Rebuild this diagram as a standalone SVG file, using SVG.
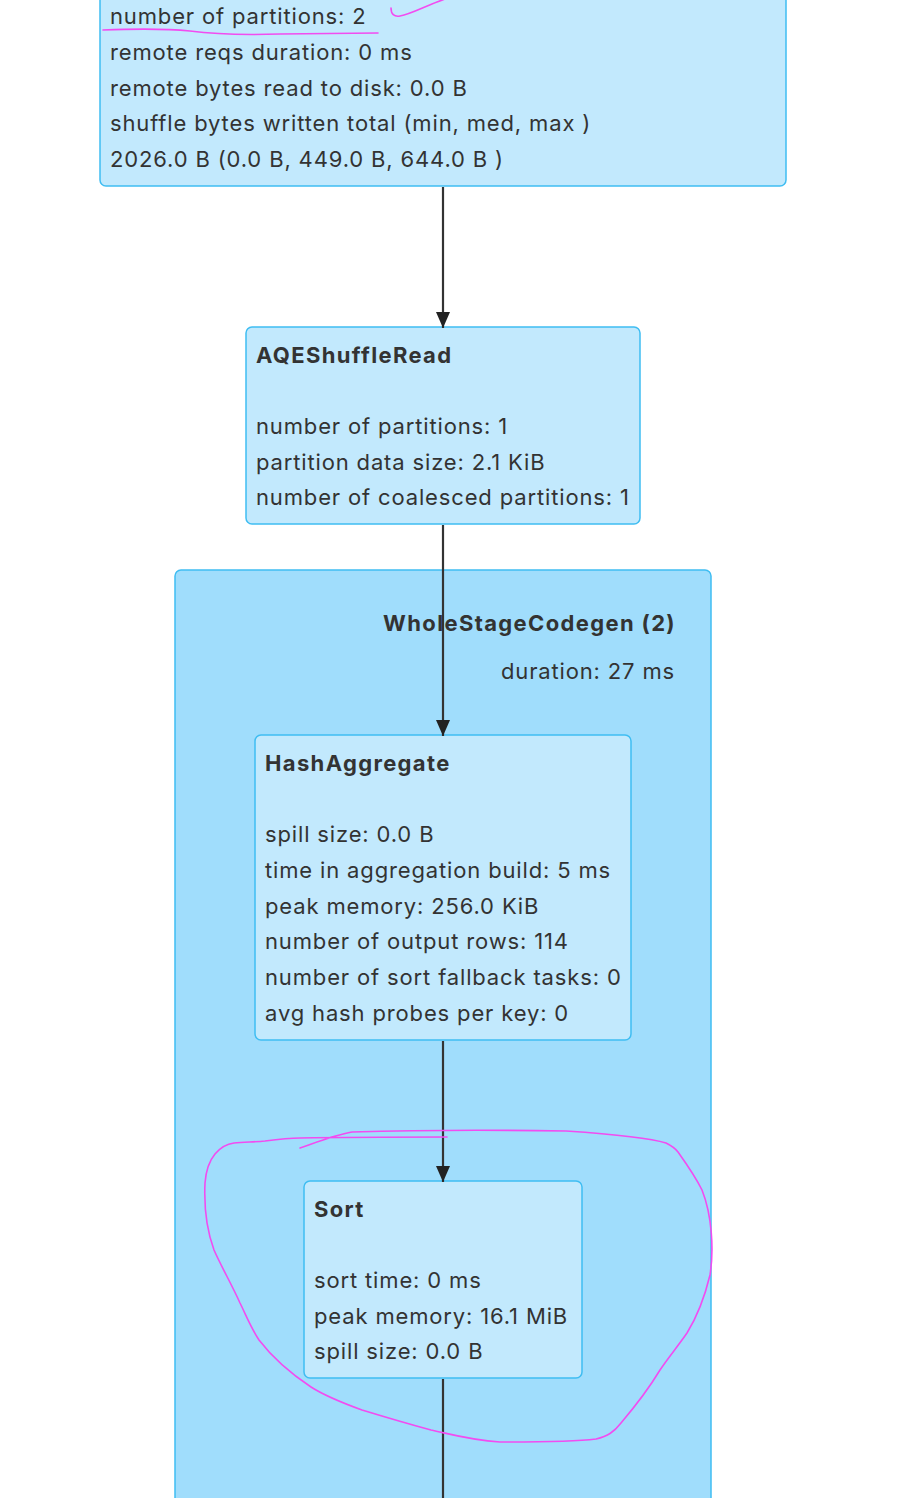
<svg xmlns="http://www.w3.org/2000/svg" width="898" height="1498" viewBox="0 0 898 1498">
<style>
.node{fill:#c2e9fd;stroke:#3fbdf2;stroke-width:1.5}
.cluster{fill:#a0ddfc;stroke:#3fbdf2;stroke-width:1.5}
text{font-family:Inter,"Liberation Sans",sans-serif;font-size:22px;fill:#333;letter-spacing:0.85px}
.b{font-weight:bold;letter-spacing:1.35px}
.edge{stroke:#333;stroke-width:2.2;fill:none}
.ink{stroke:#f24cf0;stroke-width:1.6;fill:none;stroke-linecap:round;stroke-linejoin:round}
</style>
<defs>
<marker id="arr" markerWidth="16" markerHeight="16" refX="16" refY="8" orient="auto" markerUnits="userSpaceOnUse" viewBox="0 0 16 16">
<path d="M0,1 L16,8 L0,15 z" fill="#222"/>
</marker>
</defs>
<rect width="898" height="1498" fill="#fff"/>
<g id="cluster-wsc2">
<rect class="cluster" x="175" y="570" width="536" height="960" rx="6"/>
<text class="b" x="676" y="631" text-anchor="end">WholeStageCodegen (2)</text>
<text x="675" y="679" text-anchor="end">duration: 27 ms</text>
</g>
<g id="node-exchange">
<rect class="node" x="100" y="-40" width="686" height="226" rx="6"/>
<text x="110" y="24">number of partitions: 2</text>
<text x="110" y="60">remote reqs duration: 0 ms</text>
<text x="110" y="96">remote bytes read to disk: 0.0 B</text>
<text x="110" y="131">shuffle bytes written total (min, med, max )</text>
<text x="110" y="167">2026.0 B (0.0 B, 449.0 B, 644.0 B )</text>
</g>
<g id="node-aqe">
<rect class="node" x="246" y="327" width="394" height="197" rx="6"/>
<text class="b" x="256" y="363">AQEShuffleRead</text>
<text x="256" y="434">number of partitions: 1</text>
<text x="256" y="470">partition data size: 2.1 KiB</text>
<text x="256" y="505">number of coalesced partitions: 1</text>
</g>
<g id="node-hashagg">
<rect class="node" x="255" y="735" width="376" height="305" rx="6"/>
<text class="b" x="265" y="771">HashAggregate</text>
<text x="265" y="842">spill size: 0.0 B</text>
<text x="265" y="878">time in aggregation build: 5 ms</text>
<text x="265" y="914">peak memory: 256.0 KiB</text>
<text x="265" y="949">number of output rows: 114</text>
<text x="265" y="985">number of sort fallback tasks: 0</text>
<text x="265" y="1021">avg hash probes per key: 0</text>
</g>
<g id="node-sort">
<rect class="node" x="304" y="1181" width="278" height="197" rx="6"/>
<text class="b" x="314" y="1217">Sort</text>
<text x="314" y="1288">sort time: 0 ms</text>
<text x="314" y="1324">peak memory: 16.1 MiB</text>
<text x="314" y="1359">spill size: 0.0 B</text>
</g>
<g id="edges">
<line class="edge" x1="443" y1="187" x2="443" y2="328" marker-end="url(#arr)"/>
<line class="edge" x1="443" y1="525" x2="443" y2="736" marker-end="url(#arr)"/>
<line class="edge" x1="443" y1="1041" x2="443" y2="1182" marker-end="url(#arr)"/>
<line class="edge" x1="443" y1="1379" x2="443" y2="1498"/>
</g>
<g id="annotations">
<path class="ink" d="M103,30 C130,29 160,28 190,31 C220,35 250,35 280,34 L378,33"/>
<path class="ink" d="M391,8 C391,14 394,17 400,16 C412,14 425,6 445,-1"/>
<path class="ink" d="M300,1148 C320,1141 335,1135 352,1132 C420,1130 500,1130 566,1131 C610,1134 650,1138 666,1143 C672,1146 675,1148 678,1152 C688,1166 697,1180 702,1190 C712,1215 714,1250 710,1275 C704,1300 695,1320 687,1333 C678,1346 668,1358 660,1370 C648,1390 632,1410 621,1423 C614,1432 608,1436 596,1439 C580,1441 550,1442 500,1442 C470,1440 450,1434 431,1430 C405,1423 385,1417 362,1410 C340,1402 325,1396 311,1387 C290,1373 272,1357 259,1340 C250,1326 246,1315 240,1303 C232,1285 222,1268 214,1250 C206,1228 204,1205 205,1183 C206,1170 210,1160 215,1154 C220,1148 226,1144 234,1143 C245,1142 255,1142 265,1141 C280,1139 290,1138 300,1138 C350,1137 400,1137 447,1137"/>
</g>
</svg>
